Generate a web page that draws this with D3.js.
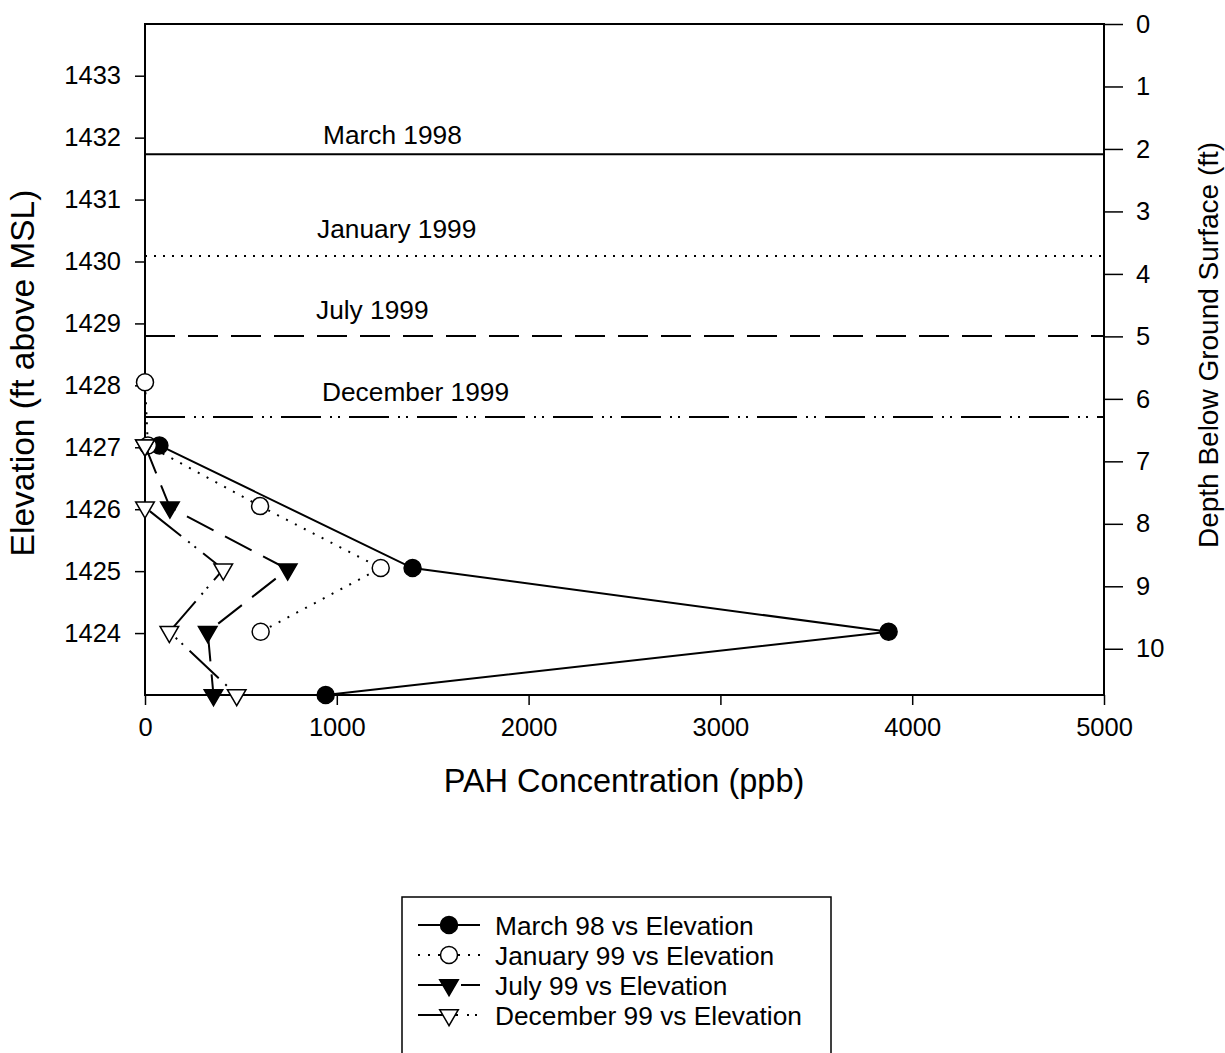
<!DOCTYPE html>
<html>
<head>
<meta charset="utf-8">
<script src="https://cdn.jsdelivr.net/npm/d3@7"></script>
<style>
  html, body { margin: 0; padding: 0; background: #fff; }
  svg { display: block; font-family: "Liberation Sans", Arial, sans-serif; }
</style>
</head>
<body>
<svg id="chart" width="1225" height="1053"></svg>
<script>
// ---------------- data ----------------
const seriesNames = ["March 98 vs Elevation", "January 99 vs Elevation", "July 99 vs Elevation", "December 99 vs Elevation"];
const marchConc = [75, 1395, 3877, 942];
const marchElev = [1427.03, 1425.05, 1424.02, 1423.0];
const janConc = [0, 15, 600, 1229, 603];
const janElev = [1428.05, 1427.03, 1426.05, 1425.05, 1424.02];
const julyConc = [0, 130, 744, 327, 357];
const julyElev = [1427.03, 1426.03, 1425.03, 1424.02, 1423.0];
const decConc = [0, 0, 408, 127, 478];
const decElev = [1427.03, 1426.03, 1425.03, 1424.02, 1423.0];

const refLabels = ["March 1998", "January 1999", "July 1999", "December 1999"];
const refElev = [1431.73, 1430.09, 1428.795, 1427.49];

const xTicks = [0, 1000, 2000, 3000, 4000, 5000];
const yTicks = [1424, 1425, 1426, 1427, 1428, 1429, 1430, 1431, 1432, 1433];
const depthTicks = [0, 1, 2, 3, 4, 5, 6, 7, 8, 9, 10];

const xTitle = "PAH Concentration (ppb)";
const yTitle = "Elevation (ft above MSL)";
const y2Title = "Depth Below Ground Surface (ft)";

// ---------------- layout ----------------
const svg = d3.select("#chart");
const L = 145, R = 1104, T = 24, B = 695;
const x = d3.scaleLinear().domain([0, 5000]).range([L, R]);
const y = d3.scaleLinear().domain([1423, 1433.835]).range([B, T]);
const yDepth = d3.scaleLinear().domain([0, 10.74]).range([T, B]);

const tickFont = 25.5;

// styles per series
const styles = [
  { dash: null, marker: "circle", fill: "#000" },
  { dash: "2,8", marker: "circle", fill: "#fff" },
  { dash: "30,13", marker: "tri", fill: "#000" },
  { dash: "40,9,2,6,2,9", marker: "tri", fill: "#fff" }
];
const refDash = [null, "2,7", "30,13", "40,9,2,6,2,9"];

// ---------------- frame ----------------
svg.append("rect").attr("x", L).attr("y", T).attr("width", R - L).attr("height", B - T)
  .attr("fill", "none").attr("stroke", "#000").attr("stroke-width", 2);

// axes
function styleAxis(g) {
  g.select(".domain").remove();
  g.selectAll(".tick line").attr("stroke", "#000").attr("stroke-width", 1.5);
  g.selectAll(".tick text").attr("font-size", tickFont).attr("fill", "#000")
    .attr("font-family", "'Liberation Sans', Arial, sans-serif");
}
svg.append("g").attr("transform", `translate(0,${B})`)
  .call(d3.axisBottom(x).tickValues(xTicks).tickSize(10).tickPadding(13).tickFormat(d3.format("d")))
  .call(styleAxis);
svg.append("g").attr("transform", `translate(${L},0)`)
  .call(d3.axisLeft(y).tickValues(yTicks).tickSize(10).tickPadding(14).tickFormat(d3.format("d")))
  .call(styleAxis);
svg.append("g").attr("transform", `translate(${R},0)`)
  .call(d3.axisRight(yDepth).tickValues(depthTicks).tickSize(19).tickPadding(13).tickFormat(d3.format("d")))
  .call(styleAxis);

// axis titles
svg.append("text").attr("x", 624).attr("y", 792).attr("text-anchor", "middle")
  .attr("font-size", 32.5).text(xTitle);
svg.append("text").attr("transform", `translate(34,${373}) rotate(-90)`)
  .attr("text-anchor", "middle").attr("font-size", 33.5).text(yTitle);
svg.append("text").attr("transform", `translate(1218,${345}) rotate(-90)`)
  .attr("text-anchor", "middle").attr("font-size", 28).text(y2Title);

// reference lines
const labelX = [323, 317, 316, 322];
const labelOff = [-10, -18, -17, -16];
refElev.forEach((e, i) => {
  const ln = svg.append("line").attr("x1", L).attr("x2", R).attr("y1", y(e)).attr("y2", y(e))
    .attr("stroke", "#000").attr("stroke-width", 2);
  if (refDash[i]) ln.attr("stroke-dasharray", refDash[i]);
  svg.append("text").attr("x", labelX[i]).attr("y", y(e) + labelOff[i])
    .attr("font-size", 26.3).text(refLabels[i]);
});

// ---------------- series ----------------
const series = [
  marchConc.map((c, i) => [c, marchElev[i]]),
  janConc.map((c, i) => [c, janElev[i]]),
  julyConc.map((c, i) => [c, julyElev[i]]),
  decConc.map((c, i) => [c, decElev[i]])
];
const line = d3.line().x(d => x(d[0])).y(d => y(d[1]));
const triPath = d3.symbol().type(d3.symbolTriangle).size(150)();

function drawMarker(g, st, cx, cy) {
  if (st.marker === "circle") {
    g.append("circle").attr("cx", cx).attr("cy", cy).attr("r", 8.5)
      .attr("fill", st.fill).attr("stroke", "#000").attr("stroke-width", 1.5);
  } else {
    g.append("path").attr("d", triPath)
      .attr("transform", `translate(${cx},${cy}) rotate(180)`)
      .attr("fill", st.fill).attr("stroke", "#000").attr("stroke-width", 1.5);
  }
}

series.forEach((pts, i) => {
  const st = styles[i];
  const g = svg.append("g");
  const p = g.append("path").attr("d", line(pts)).attr("fill", "none")
    .attr("stroke", "#000").attr("stroke-width", 2);
  if (st.dash) p.attr("stroke-dasharray", st.dash);
  pts.forEach(d => drawMarker(g, st, x(d[0]), y(d[1])));
});

// ---------------- legend ----------------
const lg = svg.append("g");
lg.append("rect").attr("x", 402).attr("y", 897).attr("width", 429).attr("height", 200)
  .attr("fill", "#fff").attr("stroke", "#000").attr("stroke-width", 1.5);
seriesNames.forEach((name, i) => {
  const st = styles[i];
  const cy = 925 + i * 30;
  const l = lg.append("line").attr("x1", 418).attr("x2", 480).attr("y1", cy).attr("y2", cy)
    .attr("stroke", "#000").attr("stroke-width", 2);
  if (st.dash) l.attr("stroke-dasharray", st.dash);
  drawMarker(lg, st, 449, cy);
  lg.append("text").attr("x", 495).attr("y", cy + 9.5).attr("font-size", 26.3).text(name);
});
</script>
</body>
</html>
